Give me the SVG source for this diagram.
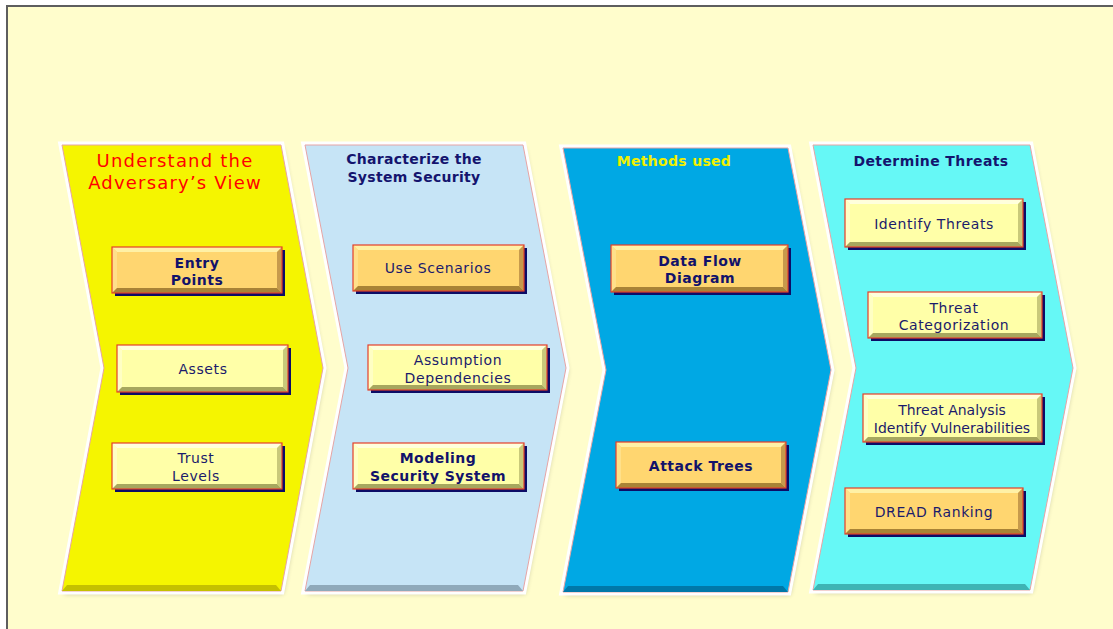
<svg xmlns="http://www.w3.org/2000/svg" width="1113" height="629" viewBox="0 0 1113 629">
  <defs>
    <filter id="soft" x="-10%" y="-10%" width="120%" height="120%">
      <feGaussianBlur stdDeviation="2.5"/>
    </filter>
    <style>
      .frame { fill:#FFFDCC; stroke:#5E5E5E; stroke-width:2; }
      .halo { fill:none; stroke:#FFFFFF; stroke-width:7; stroke-linejoin:miter; }
      .edge { stroke:#E6A4A4; stroke-width:1; }
      .drop { fill:#000000; opacity:0.22; filter:url(#soft); }
      .head { font-family:"DejaVu Sans", Verdana, sans-serif; text-anchor:middle; }
      .lbl { font-family:"DejaVu Sans", Verdana, sans-serif; font-size:14px; fill:#1B1B6B; text-anchor:middle; letter-spacing:0.6px; }
      .b { font-weight:bold; fill:#12126A; letter-spacing:0.5px; }
      .tight { letter-spacing:0; }
      .shadow { fill:#0C0C66; }
      .rim { fill:none; stroke:#E4402A; stroke-width:1.2; }
      .or-face { fill:#FFD670; } .or-top { fill:#FFF1A6; } .or-left { fill:#FFE08A; } .or-right { fill:#C79A4C; } .or-bot { fill:#A98336; }
      .ly-face { fill:#FFFFA8; } .ly-top { fill:#FFFFDC; } .ly-left { fill:#FFFFC4; } .ly-right { fill:#C9C97A; } .ly-bot { fill:#A7A75E; }
    </style>
  </defs>

  <!-- page -->
  <rect x="0" y="0" width="1113" height="629" fill="#FFFFFF"/>
  <rect class="frame" x="7" y="6" width="1130" height="650"/>

  <!-- stage chevrons -->
  <g id="stage-adversary">
    <polygon class="drop" points="64,148 283,148 325,371 283,594 64,594 106,371"/>
    <polygon class="halo" points="62,145 281,145 323,368 281,591 62,591 104,368"/>
    <polygon class="edge" fill="#F5F500" points="62,145 281,145 323,368 281,591 62,591 104,368"/>
    <polygon fill="#C4C000" points="62,591 281,591 276,585 67,585"/>
    <text class="head" font-size="18" fill="#FF0000" letter-spacing="1.2"><tspan x="175" y="167">Understand the</tspan><tspan x="175" y="189">Adversary’s View</tspan></text>
  </g>
  <g id="stage-system">
    <polygon class="drop" points="307,148 525,148 568,371 525,594 307,594 350,371"/>
    <polygon class="halo" points="305,145 523,145 566,368 523,591 305,591 348,368"/>
    <polygon class="edge" fill="#C6E4F6" points="305,145 523,145 566,368 523,591 305,591 348,368"/>
    <polygon fill="#8FA9BA" points="305,591 523,591 518,585 310,585"/>
    <text class="head" font-size="14" font-weight="bold" fill="#14146E" letter-spacing="0.3"><tspan x="414" y="164">Characterize the</tspan><tspan x="414" y="182">System Security</tspan></text>
  </g>
  <g id="stage-methods">
    <polygon class="drop" points="565,151 790,151 833,373 790,595 565,595 608,373"/>
    <polygon class="halo" points="563,148 788,148 831,370 788,592 563,592 606,370"/>
    <polygon class="edge" fill="#00A8E4" points="563,148 788,148 831,370 788,592 563,592 606,370"/>
    <polygon fill="#0078A8" points="563,592 788,592 783,586 568,586"/>
    <text class="head" font-size="14" font-weight="bold" fill="#F0F000" letter-spacing="0.3" x="674" y="166">Methods used</text>
  </g>
  <g id="stage-threats">
    <polygon class="drop" points="815,148 1032,148 1075,371 1032,593 815,593 858,371"/>
    <polygon class="halo" points="813,145 1030,145 1073,368 1030,590 813,590 856,368"/>
    <polygon class="edge" fill="#66F8F6" points="813,145 1030,145 1073,368 1030,590 813,590 856,368"/>
    <polygon fill="#3EB4B4" points="813,590 1030,590 1025,584 818,584"/>
    <text class="head" font-size="14" font-weight="bold" fill="#14146E" letter-spacing="0.4" x="931" y="166">Determine Threats</text>
  </g>

  <!-- bevelled items -->
  <g id="entry-points">
    <rect class="shadow" x="115" y="250" width="170" height="46"/>
    <rect class="or-face" x="112" y="247" width="170" height="46"/>
    <path class="or-top" d="M112 247 h170 l-5 5 h-160 z"/>
    <path class="or-left" d="M112 247 l5 5 v36 l-5 5 z"/>
    <path class="or-right" d="M282 247 l-5 5 v36 l5 5 z"/>
    <path class="or-bot" d="M112 293 h170 l-5 -5 h-160 z"/>
    <rect class="rim" x="112" y="247" width="170" height="46"/>
    <text class="lbl b"><tspan x="197" y="268">Entry</tspan><tspan x="197" y="285">Points</tspan></text>
  </g>
  <g id="assets">
    <rect class="shadow" x="120" y="348" width="171" height="47"/>
    <rect class="ly-face" x="117" y="345" width="171" height="47"/>
    <path class="ly-top" d="M117 345 h171 l-5 5 h-161 z"/>
    <path class="ly-left" d="M117 345 l5 5 v37 l-5 5 z"/>
    <path class="ly-right" d="M288 345 l-5 5 v37 l5 5 z"/>
    <path class="ly-bot" d="M117 392 h171 l-5 -5 h-161 z"/>
    <rect class="rim" x="117" y="345" width="171" height="47"/>
    <text class="lbl" x="203" y="374">Assets</text>
  </g>
  <g id="trust-levels">
    <rect class="shadow" x="115" y="446" width="170" height="46"/>
    <rect class="ly-face" x="112" y="443" width="170" height="46"/>
    <path class="ly-top" d="M112 443 h170 l-5 5 h-160 z"/>
    <path class="ly-left" d="M112 443 l5 5 v36 l-5 5 z"/>
    <path class="ly-right" d="M282 443 l-5 5 v36 l5 5 z"/>
    <path class="ly-bot" d="M112 489 h170 l-5 -5 h-160 z"/>
    <rect class="rim" x="112" y="443" width="170" height="46"/>
    <text class="lbl"><tspan x="196" y="463">Trust</tspan><tspan x="196" y="481">Levels</tspan></text>
  </g>
  <g id="use-scenarios">
    <rect class="shadow" x="356" y="248" width="171" height="46"/>
    <rect class="or-face" x="353" y="245" width="171" height="46"/>
    <path class="or-top" d="M353 245 h171 l-5 5 h-161 z"/>
    <path class="or-left" d="M353 245 l5 5 v36 l-5 5 z"/>
    <path class="or-right" d="M524 245 l-5 5 v36 l5 5 z"/>
    <path class="or-bot" d="M353 291 h171 l-5 -5 h-161 z"/>
    <rect class="rim" x="353" y="245" width="171" height="46"/>
    <text class="lbl" x="438" y="273">Use Scenarios</text>
  </g>
  <g id="assumption-dependencies">
    <rect class="shadow" x="371" y="348" width="179" height="45"/>
    <rect class="ly-face" x="368" y="345" width="179" height="45"/>
    <path class="ly-top" d="M368 345 h179 l-5 5 h-169 z"/>
    <path class="ly-left" d="M368 345 l5 5 v35 l-5 5 z"/>
    <path class="ly-right" d="M547 345 l-5 5 v35 l5 5 z"/>
    <path class="ly-bot" d="M368 390 h179 l-5 -5 h-169 z"/>
    <rect class="rim" x="368" y="345" width="179" height="45"/>
    <text class="lbl"><tspan x="458" y="365">Assumption</tspan><tspan x="458" y="383">Dependencies</tspan></text>
  </g>
  <g id="modeling-security-system">
    <rect class="shadow" x="356" y="446" width="171" height="46"/>
    <rect class="ly-face" x="353" y="443" width="171" height="46"/>
    <path class="ly-top" d="M353 443 h171 l-5 5 h-161 z"/>
    <path class="ly-left" d="M353 443 l5 5 v36 l-5 5 z"/>
    <path class="ly-right" d="M524 443 l-5 5 v36 l5 5 z"/>
    <path class="ly-bot" d="M353 489 h171 l-5 -5 h-161 z"/>
    <rect class="rim" x="353" y="443" width="171" height="46"/>
    <text class="lbl b"><tspan x="438" y="463">Modeling</tspan><tspan x="438" y="481">Security System</tspan></text>
  </g>
  <g id="data-flow-diagram">
    <rect class="shadow" x="614" y="248" width="177" height="47"/>
    <rect class="or-face" x="611" y="245" width="177" height="47"/>
    <path class="or-top" d="M611 245 h177 l-5 5 h-167 z"/>
    <path class="or-left" d="M611 245 l5 5 v37 l-5 5 z"/>
    <path class="or-right" d="M788 245 l-5 5 v37 l5 5 z"/>
    <path class="or-bot" d="M611 292 h177 l-5 -5 h-167 z"/>
    <rect class="rim" x="611" y="245" width="177" height="47"/>
    <text class="lbl b"><tspan x="700" y="266">Data Flow</tspan><tspan x="700" y="283">Diagram</tspan></text>
  </g>
  <g id="attack-trees">
    <rect class="shadow" x="619" y="445" width="170" height="46"/>
    <rect class="or-face" x="616" y="442" width="170" height="46"/>
    <path class="or-top" d="M616 442 h170 l-5 5 h-160 z"/>
    <path class="or-left" d="M616 442 l5 5 v36 l-5 5 z"/>
    <path class="or-right" d="M786 442 l-5 5 v36 l5 5 z"/>
    <path class="or-bot" d="M616 488 h170 l-5 -5 h-160 z"/>
    <rect class="rim" x="616" y="442" width="170" height="46"/>
    <text class="lbl b" x="701" y="471">Attack Trees</text>
  </g>
  <g id="identify-threats">
    <rect class="shadow" x="848" y="202" width="178" height="48"/>
    <rect class="ly-face" x="845" y="199" width="178" height="48"/>
    <path class="ly-top" d="M845 199 h178 l-5 5 h-168 z"/>
    <path class="ly-left" d="M845 199 l5 5 v38 l-5 5 z"/>
    <path class="ly-right" d="M1023 199 l-5 5 v38 l5 5 z"/>
    <path class="ly-bot" d="M845 247 h178 l-5 -5 h-168 z"/>
    <rect class="rim" x="845" y="199" width="178" height="48"/>
    <text class="lbl" x="934" y="229">Identify Threats</text>
  </g>
  <g id="threat-categorization">
    <rect class="shadow" x="871" y="295" width="174" height="46"/>
    <rect class="ly-face" x="868" y="292" width="174" height="46"/>
    <path class="ly-top" d="M868 292 h174 l-5 5 h-164 z"/>
    <path class="ly-left" d="M868 292 l5 5 v36 l-5 5 z"/>
    <path class="ly-right" d="M1042 292 l-5 5 v36 l5 5 z"/>
    <path class="ly-bot" d="M868 338 h174 l-5 -5 h-164 z"/>
    <rect class="rim" x="868" y="292" width="174" height="46"/>
    <text class="lbl"><tspan x="954" y="313">Threat</tspan><tspan x="954" y="330">Categorization</tspan></text>
  </g>
  <g id="threat-analysis">
    <rect class="shadow" x="866" y="397" width="179" height="48"/>
    <rect class="ly-face" x="863" y="394" width="179" height="48"/>
    <path class="ly-top" d="M863 394 h179 l-5 5 h-169 z"/>
    <path class="ly-left" d="M863 394 l5 5 v38 l-5 5 z"/>
    <path class="ly-right" d="M1042 394 l-5 5 v38 l5 5 z"/>
    <path class="ly-bot" d="M863 442 h179 l-5 -5 h-169 z"/>
    <rect class="rim" x="863" y="394" width="179" height="48"/>
    <text class="lbl tight"><tspan x="952" y="415">Threat Analysis</tspan><tspan x="952" y="433">Identify Vulnerabilities</tspan></text>
  </g>
  <g id="dread-ranking">
    <rect class="shadow" x="848" y="491" width="178" height="46"/>
    <rect class="or-face" x="845" y="488" width="178" height="46"/>
    <path class="or-top" d="M845 488 h178 l-5 5 h-168 z"/>
    <path class="or-left" d="M845 488 l5 5 v36 l-5 5 z"/>
    <path class="or-right" d="M1023 488 l-5 5 v36 l5 5 z"/>
    <path class="or-bot" d="M845 534 h178 l-5 -5 h-168 z"/>
    <rect class="rim" x="845" y="488" width="178" height="46"/>
    <text class="lbl" x="934" y="517">DREAD Ranking</text>
  </g>

  <!-- no explicit connectors: stage order is carried by the chevrons -->
  <g id="connectors"/>
</svg>
